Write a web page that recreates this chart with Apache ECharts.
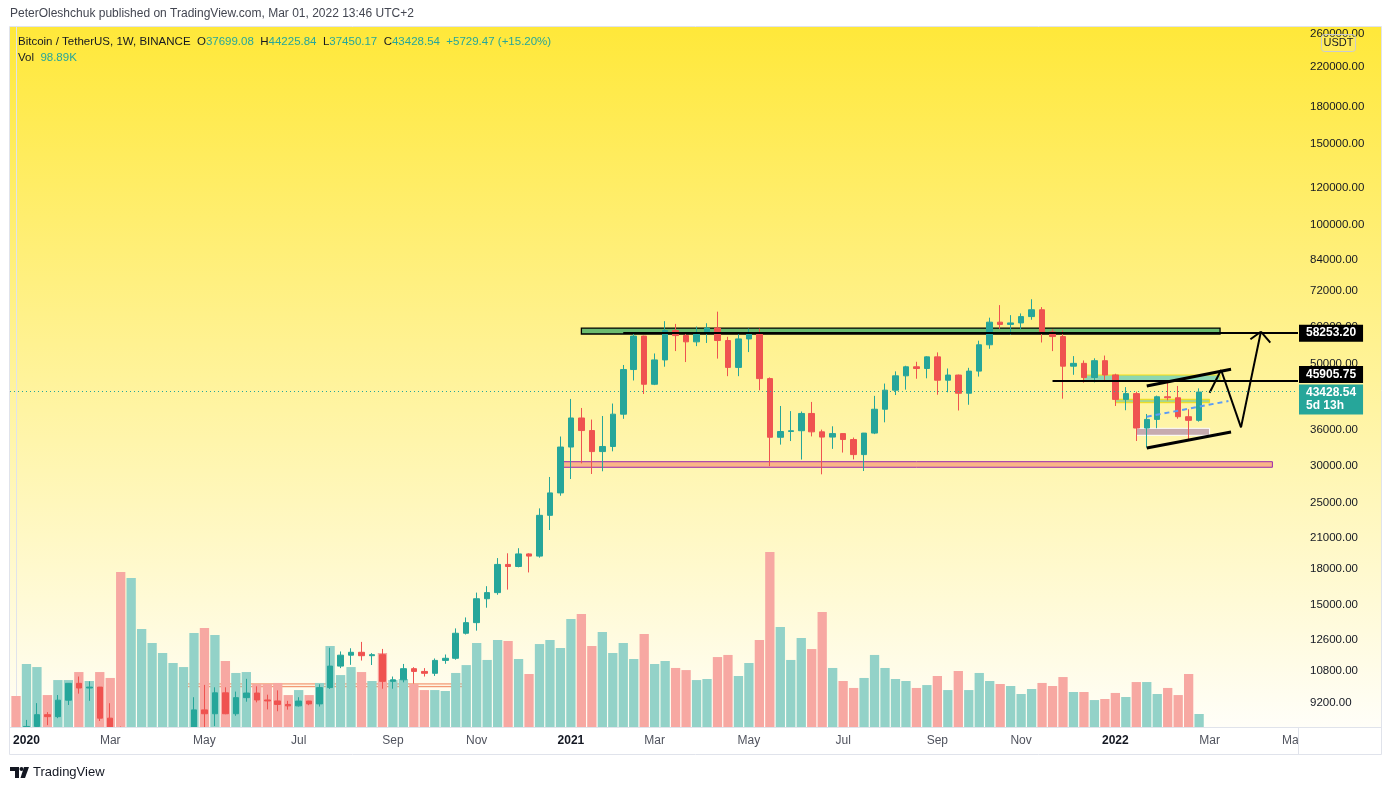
<!DOCTYPE html>
<html>
<head>
<meta charset="utf-8">
<script src="https://cdn.jsdelivr.net/npm/echarts@6/dist/echarts.min.js"></script>
<style>
  html, body { margin: 0; padding: 0; background: #fff; }
  #main { width: 1386px; height: 790px; }
</style>
</head>
<body>
<div id="main"></div>
<script>
// weekly bars, Binance BTC/USDT (last 9 slots are empty future weeks)
var dates = [
  '2019-12-30','2020-01-06','2020-01-13','2020-01-20','2020-01-27','2020-02-03','2020-02-10','2020-02-17','2020-02-24','2020-03-02',
  '2020-03-09','2020-03-16','2020-03-23','2020-03-30','2020-04-06','2020-04-13','2020-04-20','2020-04-27','2020-05-04','2020-05-11',
  '2020-05-18','2020-05-25','2020-06-01','2020-06-08','2020-06-15','2020-06-22','2020-06-29','2020-07-06','2020-07-13','2020-07-20',
  '2020-07-27','2020-08-03','2020-08-10','2020-08-17','2020-08-24','2020-08-31','2020-09-07','2020-09-14','2020-09-21','2020-09-28',
  '2020-10-05','2020-10-12','2020-10-19','2020-10-26','2020-11-02','2020-11-09','2020-11-16','2020-11-23','2020-11-30','2020-12-07',
  '2020-12-14','2020-12-21','2020-12-28','2021-01-04','2021-01-11','2021-01-18','2021-01-25','2021-02-01','2021-02-08','2021-02-15',
  '2021-02-22','2021-03-01','2021-03-08','2021-03-15','2021-03-22','2021-03-29','2021-04-05','2021-04-12','2021-04-19','2021-04-26',
  '2021-05-03','2021-05-10','2021-05-17','2021-05-24','2021-05-31','2021-06-07','2021-06-14','2021-06-21','2021-06-28','2021-07-05',
  '2021-07-12','2021-07-19','2021-07-26','2021-08-02','2021-08-09','2021-08-16','2021-08-23','2021-08-30','2021-09-06','2021-09-13',
  '2021-09-20','2021-09-27','2021-10-04','2021-10-11','2021-10-18','2021-10-25','2021-11-01','2021-11-08','2021-11-15','2021-11-22',
  '2021-11-29','2021-12-06','2021-12-13','2021-12-20','2021-12-27','2022-01-03','2022-01-10','2022-01-17','2022-01-24','2022-01-31',
  '2022-02-07','2022-02-14','2022-02-21','2022-02-28','2022-03-07','2022-03-14','2022-03-21','2022-03-28','2022-04-04','2022-04-11',
  '2022-04-18','2022-04-25','2022-05-02'
];
var opens = [
  7420,7351,8185,8680,8595,9330,10150,9915,9960,8530,
  8035,5361,5816,5881,6775,6905,7120,7700,8890,8720,
  9680,8720,9450,9670,9340,9295,9135,9070,9290,9160,
  9935,11060,11680,11850,11650,11710,10250,10330,10920,10770,
  10670,11380,11500,13030,13740,15480,15960,18370,18180,19360,
  19150,23470,26250,33000,38150,35830,32260,33090,38880,48580,
  57410,45140,50970,59020,57550,55780,58200,59770,56150,49100,
  56600,58240,46430,34650,35660,35800,39020,35600,34680,35290,
  34260,31780,35380,39850,43830,47080,49250,48830,51750,46060,
  47260,43160,48200,54970,61530,60860,61300,63270,65470,58620,
  57270,49400,50100,46680,50775,47290,41860,43080,36280,37880,
  42410,42200,38390,37699.08
];
var highs = [
  7495,8455,9195,8790,9575,10160,10500,10250,9968,9190,
  8180,6900,6950,7200,7470,7300,7770,9470,10070,9950,
  9950,9740,10380,10000,9590,9800,9300,9470,9300,10100,
  12120,11900,12090,12480,11800,12050,10500,11180,11000,10950,
  11490,11720,13350,14100,15960,16480,18960,19420,19920,19420,
  24300,28420,34780,41950,40100,37850,38530,41000,49700,58350,
  57530,52640,61840,61000,58420,60200,61200,64850,57200,57960,
  59600,59600,46700,40500,39480,39400,41330,36000,36600,35300,
  34600,35400,42600,45300,48140,49500,50500,51900,52920,48840,
  47360,49000,56100,62930,67000,63730,64270,69000,66340,59400,
  59040,51950,50830,51380,52090,47570,44500,43500,38920,42650,
  45860,44770,39840,44225.84
];
var lows = [
  6871,7335,8079,8238,8530,9110,9640,9300,8410,7630,
  3782,4442,5670,5855,6750,6463,6780,7680,8110,8200,
  8700,8630,9260,9230,8910,8830,8900,9040,9100,9040,
  9870,10950,11130,11370,11120,9880,9880,10200,10140,10500,
  10530,11190,11420,12950,13200,14800,15790,16200,18110,17650,
  19000,21810,25880,28130,30420,28850,29240,32300,37990,46000,
  43000,44950,49270,53270,50430,54600,55470,51300,47000,47000,
  53000,43800,30000,33400,34000,31000,34800,28800,32700,32100,
  31020,29280,35200,37330,42780,43950,46400,46500,42840,43370,
  39600,40750,46900,53880,59500,57820,59400,62280,55600,53260,
  42000,47320,45500,45560,45680,40500,39650,34010,32920,36250,
  41650,38000,34320,37450.17
];
var closes = [
  7351,8185,8680,8595,9330,10150,9915,9960,8530,8035,
  5361,5816,5881,6775,6905,7120,7700,8890,8720,9680,
  8720,9450,9670,9340,9295,9135,9070,9290,9160,9935,
  11060,11680,11850,11650,11710,10250,10330,10920,10770,10670,
  11380,11500,13030,13740,15480,15960,18370,18180,19360,19150,
  23470,26250,33000,38150,35830,32260,33090,38880,48580,57410,
  45140,50970,59020,57550,55780,58200,59770,56150,49100,56600,
  58240,46430,34650,35660,35800,39020,35600,34680,35290,34260,
  31780,35380,39850,43830,47080,49250,48830,51750,46060,47260,
  43160,48200,54970,61530,60860,61300,63270,65470,58620,57270,
  49400,50100,46680,50775,47290,41860,43080,36280,37880,42410,
  42200,38390,37700,43428.54
];
// volume in thousands of BTC
var volumes = [
  236,479,456,243,357,357,418,350,418,373,
  1179,1133,745,639,563,487,456,715,753,700,
  502,411,418,327,327,335,243,281,243,335,
  616,395,456,418,350,563,357,365,327,281,
  281,274,411,471,639,510,662,654,517,403,
  631,662,601,821,859,616,722,563,639,517,
  707,479,502,449,433,357,365,532,548,388,
  487,662,1331,760,510,677,593,875,449,350,
  297,373,548,449,365,350,297,319,388,281,
  426,281,411,350,327,312,251,289,335,312,
  380,266,266,205,213,259,228,342,342,251,
  297,243,403,98.89
];

var yTicks = [9200,10800,12600,15000,18000,21000,25000,30000,36000,42000,50000,60000,72000,84000,100000,120000,150000,180000,220000,260000];
var xTickDates = ['2020-01-06','2020-03-02','2020-05-04','2020-07-06','2020-09-07','2020-11-02','2021-01-04','2021-03-01','2021-05-03','2021-07-05','2021-09-06','2021-11-01','2022-01-03','2022-03-07','2022-05-02'];
var xTickLabels = ['2020','Mar','May','Jul','Sep','Nov','2021','Mar','May','Jul','Sep','Nov','2022','Mar','May'];

var priceMin = 8162, priceMax = 268400;
var volMax = 5324;
var lastPrice = 43428.54;
var levelTop = [58, 58253.20];   // start week index, price
var levelMid = [99, 45905.75];

// drawings: [fromWeek, toWeek, priceTop, priceBottom]
var zone2020 = [16, 43, 10120, 9980];
var zoneTop = [54, 115, 59760, 58010];
var zoneSupport = [52, 120, 30670, 29830];
var zoneMid = [102, 115, 47270, 45905.75];
var zoneSmall = [105, 114, 41880, 41170];
var zoneBase = [107, 114, 36230, 34990];
// lines: [week, price] points
var trendUpper = [[108, 44745], [116.05, 48640]];
var trendLower = [[108, 32840], [116.05, 35570]];
var trendDash = [[108, 38390], [115.8, 41520]];
var projPath = [[114, 43280], [115.1, 48470], [117, 36410], [118.9, 58680]];
var arrowHead = [[117.9, 56490], [118.9, 58680], [119.8, 55540]];

var xMin = -0.573, xMax = 122.445;
function lg(p) { return Math.log10(p); }

var candleData = opens.map(function (o, i) {
  return [i, lg(o), lg(closes[i]), lg(lows[i]), lg(highs[i])];
});
var volData = volumes.map(function (v, i) {
  return { value: [i, v], itemStyle: { color: closes[i] >= opens[i] ? '#93d2c8' : '#f7a8a2' } };
});
var xTickIdx = xTickDates.map(function (d) { return dates.indexOf(d); });

function zoneArea(z, fill, border, bw) {
  return [
    { coord: [z[0], lg(z[2])], itemStyle: { color: fill, borderColor: border, borderWidth: bw } },
    { coord: [z[1], lg(z[3])] }
  ];
}
function seg(a, b, style) {
  return [{ coord: [a[0], lg(a[1])], lineStyle: style }, { coord: [b[0], lg(b[1])] }];
}
function pathSegs(pts, style) {
  var out = [];
  for (var i = 0; i < pts.length - 1; i++) out.push(seg(pts[i], pts[i + 1], style));
  return out;
}

var blackThick = { color: '#000', width: 3, type: 'solid' };
var blackThin = { color: '#000', width: 2, type: 'solid' };
var lineSegs = [
  seg([levelTop[0], levelTop[1]], [xMax, levelTop[1]], { color: '#000', width: 2, type: 'solid' }),
  seg([levelMid[0], levelMid[1]], [xMax, levelMid[1]], { color: '#000', width: 2, type: 'solid' }),
  seg(trendUpper[0], trendUpper[1], blackThick),
  seg(trendLower[0], trendLower[1], blackThick),
  seg(trendDash[0], trendDash[1], { color: '#5b9cf6', width: 2, type: [5, 4] })
].concat(pathSegs(projPath, blackThin)).concat(pathSegs(arrowHead, blackThin));

var font = 'Liberation Sans';
var chart = echarts.init(document.getElementById('main'));
chart.setOption({
  animation: false,
  grid: { left: 10, right: 88, top: 27, bottom: 63 },
  xAxis: {
    type: 'value', min: xMin, max: xMax, z: 10,
    splitLine: { show: false },
    axisTick: { show: false },
    axisLine: { show: true, lineStyle: { color: '#e0e3eb', width: 1 } },
    axisLabel: {
      customValues: xTickIdx,
      margin: 8,
      formatter: function (v) {
        var t = xTickLabels[xTickIdx.indexOf(Math.round(v))] || '';
        return /^\d{4}$/.test(t) ? '{y|' + t + '}' : '{m|' + t + '}';
      },
      rich: {
        y: { fontWeight: 'bold', color: '#131722', fontSize: 12, fontFamily: font },
        m: { color: '#50535e', fontSize: 12, fontFamily: font }
      }
    }
  },
  yAxis: [{
    type: 'value', position: 'right', min: lg(priceMin), max: lg(priceMax),
    splitLine: { show: false },
    axisTick: { show: false },
    axisLine: { show: true, lineStyle: { color: '#e0e3eb', width: 1 } },
    axisLabel: {
      customValues: yTicks.map(lg),
      margin: 12,
      color: '#131722', fontSize: 11.5, fontFamily: font,
      formatter: function (v) { return Math.pow(10, v).toFixed(2); }
    }
  }, {
    type: 'value', min: 0, max: volMax, show: false,
    splitLine: { show: false }
  }],
  graphic: [
    { type: 'rect', z: -10, silent: true, shape: { x: 10, y: 27, width: 1371, height: 700 },
      style: { fill: { type: 'linear', x: 0, y: 0, x2: 0, y2: 1, colorStops: [
        { offset: 0, color: '#ffe83a' }, { offset: 0.5, color: '#fff39a' }, { offset: 1, color: '#fffef8' }] } } },
    // white time-scale row and page foot (candles below the price range stay hidden)
    { type: 'rect', z: 4, silent: true, shape: { x: 0, y: 727.5, width: 1386, height: 63 }, style: { fill: '#fff' } },
    { type: 'rect', z: 11, silent: true, shape: { x: 1299, y: 728, width: 82, height: 26 }, style: { fill: '#fff' } },
    { type: 'rect', z: 12, silent: true, shape: { x: 9.5, y: 26.5, width: 1372, height: 728 },
      style: { fill: 'none', stroke: '#e0e3eb', lineWidth: 1 } },
    { type: 'line', z: 12, silent: true, shape: { x1: 1298.5, y1: 727, x2: 1298.5, y2: 755 },
      style: { stroke: '#e0e3eb', lineWidth: 1 } },
    { type: 'line', z: 12, silent: true, shape: { x1: 10, y1: 727.5, x2: 1381, y2: 727.5 },
      style: { stroke: '#e0e3eb', lineWidth: 1 } },
    { type: 'rect', z: 12, silent: true, shape: { x: 1321.5, y: 34.5, width: 34, height: 17, r: 3 },
      style: { fill: 'rgba(255,255,255,0.15)', stroke: '#c9cbd3', lineWidth: 1 } },
    { type: 'text', z: 12, silent: true, x: 1338.5, y: 43,
      style: { text: 'USDT', fill: '#131722', fontSize: 11, fontFamily: font, align: 'center', verticalAlign: 'middle' } },
    { type: 'text', z: 12, silent: true, x: 10, y: 14,
      style: { text: 'PeterOleshchuk published on TradingView.com, Mar 01, 2022 13:46 UTC+2', fill: '#434651',
        fontSize: 12, fontFamily: font, verticalAlign: 'middle' } },
    { type: 'text', z: 12, silent: true, x: 18, y: 42,
      style: { text: 'Bitcoin / TetherUS, 1W, BINANCE  O{v|37699.08}  H{v|44225.84}  L{v|37450.17}  C{v|43428.54}  {v|+5729.47 (+15.20%)}',
        fill: '#131722', fontSize: 11.5, fontFamily: font, verticalAlign: 'middle',
        rich: { v: { fill: '#26a69a', fontSize: 11.5, fontFamily: font } } } },
    { type: 'text', z: 12, silent: true, x: 18, y: 58,
      style: { text: 'Vol  {v|98.89K}', fill: '#131722', fontSize: 11.5, fontFamily: font, verticalAlign: 'middle',
        rich: { v: { fill: '#26a69a', fontSize: 11.5, fontFamily: font } } } },
    { type: 'polygon', z: 12, silent: true, shape: { points: [[10, 767], [19, 767], [19, 778], [15, 778], [15, 771], [10, 771]] }, style: { fill: '#131722' } },
    { type: 'circle', z: 12, silent: true, shape: { cx: 21.5, cy: 769, r: 2 }, style: { fill: '#131722' } },
    { type: 'polygon', z: 12, silent: true, shape: { points: [[24, 767], [29, 767], [25, 778], [20.5, 778]] }, style: { fill: '#131722' } },
    { type: 'text', z: 12, silent: true, x: 33, y: 772,
      style: { text: 'TradingView', fill: '#131722', fontSize: 13, fontFamily: font, verticalAlign: 'middle' } }
  ],
  series: [{
    name: 'Vol', type: 'bar', xAxisIndex: 0, yAxisIndex: 1, clip: true,
    barWidth: 9.3, data: volData, z: 1, silent: true
  }, {
    name: 'BTCUSDT', type: 'candlestick', xAxisIndex: 0, yAxisIndex: 0, clip: true,
    barWidth: 6, data: candleData, z: 3, silent: true,
    itemStyle: { color: '#26a69a', color0: '#ef5350', borderColor: '#26a69a', borderColor0: '#ef5350', borderWidth: 1 }
  }, {
    name: 'drawings', type: 'line', data: [], z: 3.5, silent: true,
    markArea: {
      silent: true, label: { show: false },
      data: [
        zoneArea(zone2020, 'rgba(255,140,90,0.08)', '#f0845c', 1),
        zoneArea(zoneSupport, 'rgba(245,130,100,0.55)', '#9c27b0', 1),
        zoneArea(zoneTop, 'rgba(50,165,100,0.72)', '#000', 1.3),
        zoneArea(zoneMid, 'rgba(80,200,190,0.65)', '#f5dd10', 1),
        zoneArea(zoneSmall, 'rgba(100,190,120,0.55)', '#f5dd10', 1),
        zoneArea(zoneBase, 'rgba(160,120,180,0.6)', '#ffffff', 1)
      ]
    },
    markLine: {
      silent: true, symbol: ['none', 'none'], label: { show: false },
      lineStyle: { color: '#26a69a', width: 1, type: [1, 3] },
      data: lineSegs.concat([{ yAxis: lg(lastPrice), lineStyle: { color: '#26a69a', width: 1, type: [1, 3] } }])
    },
    markPoint: {
      silent: true, symbol: 'circle', symbolSize: 0,
      data: [{
        coord: [xMax, lg(levelTop[1])],
        label: { show: true, position: 'right', distance: 1, offset: [0, 0], formatter: '58253.20',
          backgroundColor: '#000', color: '#fff', padding: [2, 7, 2, 7], fontSize: 12, lineHeight: 13,
          fontWeight: 'bold', fontFamily: font }
      }, {
        coord: [xMax, lg(levelMid[1])],
        label: { show: true, position: 'right', distance: 1, offset: [0, -6.5], formatter: '45905.75',
          backgroundColor: '#000', color: '#fff', padding: [2, 7, 2, 7], fontSize: 12, lineHeight: 13,
          fontWeight: 'bold', fontFamily: font }
      }, {
        coord: [xMax, lg(lastPrice)],
        label: { show: true, position: 'right', distance: 1, offset: [0, 7.5], formatter: '43428.54\n5d 13h',
          backgroundColor: '#26a69a', color: '#fff', padding: [2, 7, 2, 7], fontSize: 12, lineHeight: 13,
          fontWeight: 'bold', fontFamily: font }
      }]
    }
  }]
});
</script>
</body>
</html>
